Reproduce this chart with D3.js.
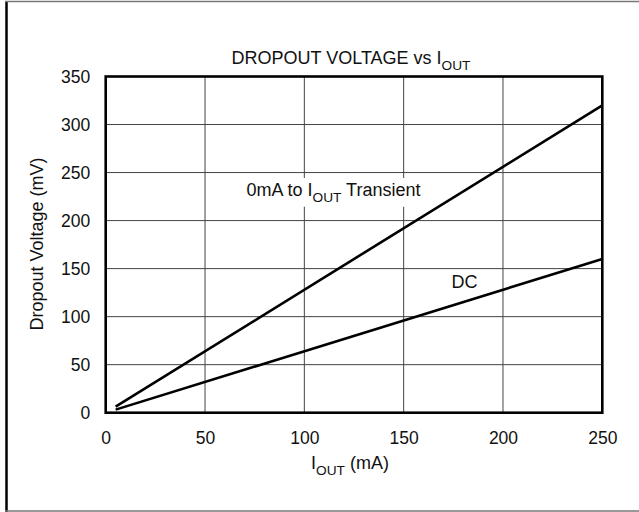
<!DOCTYPE html>
<html>
<head>
<meta charset="utf-8">
<script src="https://cdn.jsdelivr.net/npm/d3@7"></script>
<style>
  html, body { margin: 0; padding: 0; background: #fff; }
  svg { display: block; font-family: "Liberation Sans", Arial, sans-serif; }
</style>
</head>
<body>
<svg id="chart" width="639" height="512"></svg>
<script>
// Load current (mA) and dropout voltage (mV) for each curve
const currentMA = [5, 250];
const transientMV = [6.4, 320];
const dcMV = [3.2, 160];

const xTicks = [0, 50, 100, 150, 200, 250];
const yTicks = [0, 50, 100, 150, 200, 250, 300, 350];

const svg = d3.select("#chart");
const W = 639, H = 512;
const m = { left: 105.7, right: 639 - 602.3, top: 76.5, bottom: 512 - 412.7 };
const FS = 17.5;

const x = d3.scaleLinear().domain([0, 250]).range([m.left, W - m.right]);
const y = d3.scaleLinear().domain([0, 350]).range([H - m.bottom, m.top]);

// Frame around the whole figure
svg.append("line").attr("x1", 6.5).attr("x2", 6.5).attr("y1", 1).attr("y2", 512)
  .attr("stroke", "#000").attr("stroke-width", 2.5);
svg.append("line").attr("x1", 5).attr("x2", 639).attr("y1", 1.5).attr("y2", 1.5)
  .attr("stroke", "#777").attr("stroke-width", 1.5);
svg.append("line").attr("x1", 5).attr("x2", 639).attr("y1", 511).attr("y2", 511)
  .attr("stroke", "#777").attr("stroke-width", 1.5);

// Grid
const grid = svg.append("g");
grid.selectAll(".gx").data(xTicks.slice(1, -1)).join("line")
  .attr("x1", d => x(d)).attr("x2", d => x(d))
  .attr("y1", y(0)).attr("y2", y(350))
  .attr("stroke", "#444").attr("stroke-width", 1);
grid.selectAll(".gy").data(yTicks.slice(1, -1)).join("line")
  .attr("y1", d => y(d)).attr("y2", d => y(d))
  .attr("x1", x(0)).attr("x2", x(250))
  .attr("stroke", "#444").attr("stroke-width", 1);

// Axes tick labels
const xAxis = d3.axisBottom(x).tickValues(xTicks).tickSize(0).tickPadding(19);
svg.append("g").attr("transform", `translate(0,${y(0)})`).call(xAxis)
  .call(g => g.select(".domain").remove())
  .selectAll("text").attr("font-size", FS).attr("fill", "#111")
  .attr("font-family", "Liberation Sans, Arial, sans-serif");

const yAxis = d3.axisLeft(y).tickValues(yTicks).tickSize(0).tickPadding(15.5);
svg.append("g").attr("transform", `translate(${x(0)},0)`).call(yAxis)
  .call(g => g.select(".domain").remove())
  .selectAll("text").attr("font-size", FS).attr("fill", "#111")
  .attr("font-family", "Liberation Sans, Arial, sans-serif");

// Text helper for labels with an "OUT" subscript
function subText(g, px, py, before, sub, after, anchor, size) {
  const t = g.append("text").attr("x", px).attr("y", py)
    .attr("text-anchor", anchor).attr("font-size", size).attr("fill", "#111");
  t.append("tspan").text(before);
  t.append("tspan").attr("font-size", size * 0.76).attr("dy", size * 0.32).text(sub);
  if (after) t.append("tspan").attr("dy", -size * 0.32).text(after);
  return t;
}

// Transient curve label sits on a white patch over the grid
const tLabel = svg.append("g");
const tBox = tLabel.append("rect").attr("fill", "#fff");
const tText = subText(tLabel, 246.5, 196, "0mA to I", "OUT", " Transient", "start", FS + 0.5);
const bb = tText.node().getBBox();
tBox.attr("x", bb.x - 3).attr("y", bb.y - 2).attr("width", bb.width + 6).attr("height", bb.height + 4);

// Curves
const line = d3.line().x(d => x(d[0])).y(d => y(d[1]));
svg.append("path").datum(d3.zip(currentMA, transientMV)).attr("d", line)
  .attr("fill", "none").attr("stroke", "#000").attr("stroke-width", 2.6);
svg.append("path").datum(d3.zip(currentMA, dcMV)).attr("d", line)
  .attr("fill", "none").attr("stroke", "#000").attr("stroke-width", 2.6);

// Plot border
svg.append("rect").attr("x", x(0)).attr("y", y(350))
  .attr("width", x(250) - x(0)).attr("height", y(0) - y(350))
  .attr("fill", "none").attr("stroke", "#000").attr("stroke-width", 2.6);

subText(svg, 351, 64, "DROPOUT VOLTAGE vs I", "OUT", "", "middle", FS + 0.5);
subText(svg, 350, 469, "I", "OUT", " (mA)", "middle", FS + 0.5);

svg.append("text").attr("x", 451.5).attr("y", 288).attr("font-size", FS + 0.5)
  .attr("fill", "#111").text("DC");

// Y axis title
svg.append("text").attr("transform", `translate(43,244) rotate(-90)`)
  .attr("text-anchor", "middle").attr("font-size", FS + 0.5).attr("fill", "#111")
  .text("Dropout Voltage (mV)");
</script>
</body>
</html>
